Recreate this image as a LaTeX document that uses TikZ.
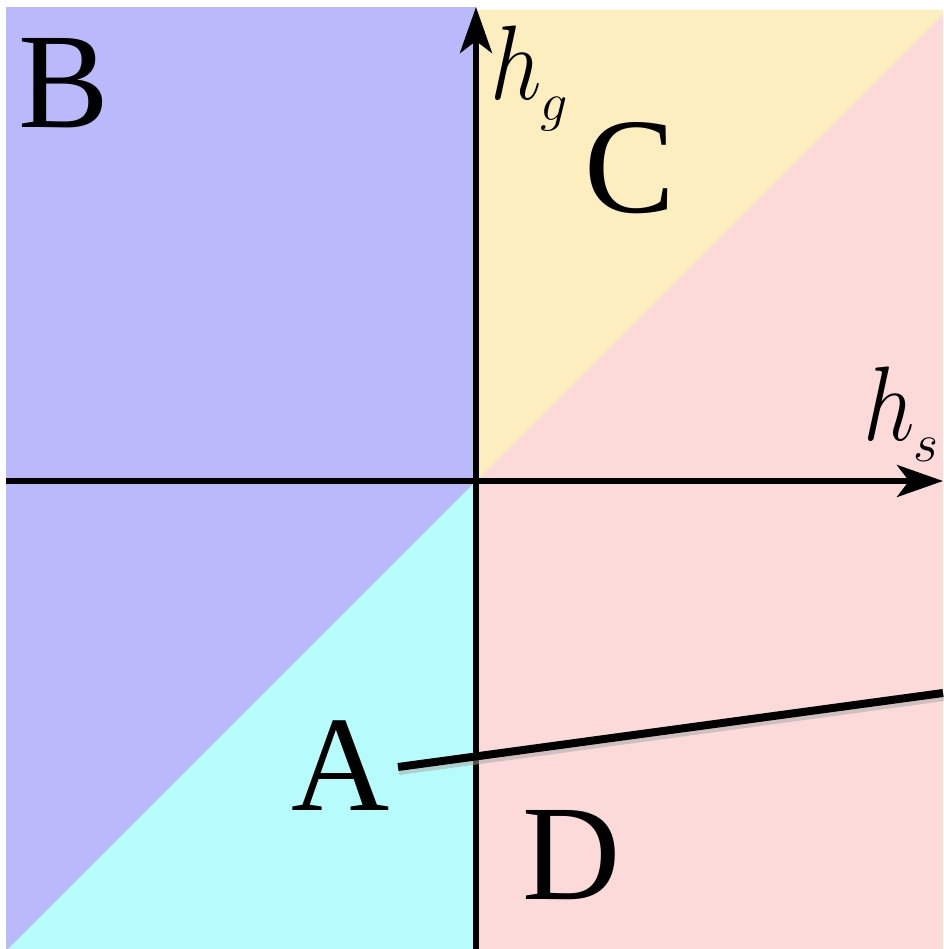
\RequirePackage{fix-cm}
\documentclass[tikz,border=0pt]{standalone}
\usepackage{fontspec}
\setmainfont{Liberation Serif}
\usetikzlibrary{arrows.meta}
\definecolor{regB}{RGB}{185,185,252}
\definecolor{regA}{RGB}{182,252,252}
\definecolor{regC}{RGB}{252,238,190}
\definecolor{regD}{RGB}{252,218,218}
\newcommand{\axlab}[2]{\scalebox{0.86}[1]{$#1$}\kern-1pt\raisebox{-21pt}{\fontsize{54}{54}\selectfont$#2$}}
\tikzset{
  axis/.style={line width=5.5pt,-{Stealth[length=46pt,width=32pt,inset=12pt]}},
  bigletter/.style={anchor=base,inner sep=0pt,font=\fontsize{136}{136}\selectfont},
  axlabel/.style={anchor=base west,inner sep=0pt,font=\fontsize{106}{106}\selectfont},
  curve/.style={line width=8pt,line cap=butt}
}
\begin{document}
\begin{tikzpicture}[x=1pt,y=-1pt]
\useasboundingbox (0,0) rectangle (943,949);
% regions
\fill[regB] (6,7) rectangle (476,949);
\fill[regA] (476,481) -- (476,949) -- (8,949) -- cycle;
\fill[regD] (476,10) rectangle (943,949);
\fill[regC] (476,481) -- (476,10) -- (943,10) -- (943,14) -- cycle;
% axes
\coordinate (xmin) at (6,481);
\coordinate (xmax) at (943,481);
\coordinate (ymin) at (476,949);
\coordinate (ymax) at (476,7);
\draw[axis] (xmin) -- (xmax);
\draw[axis] (ymin) -- (ymax);
% line
\coordinate (ls) at (398,767);
\coordinate (le) at (943,693);
\draw[line width=8pt,black!35,opacity=0.5] ([shift={(1,4)}]ls) -- ([shift={(1,4)}]le);
\draw[curve] (ls) -- (le);
% labels
\node[bigletter] (B) at (64,128) {B};
\node[bigletter] (C) at (630,213) {C};
\node[bigletter] (A) at (341,810) {A};
\node[bigletter] (D) at (572,899) {D};
\node[axlabel] (hg) at (490,100) {\axlab{h}{g}};
\node[axlabel] (hs) at (863,440) {\axlab{h}{s}};
\end{tikzpicture}
\end{document}
